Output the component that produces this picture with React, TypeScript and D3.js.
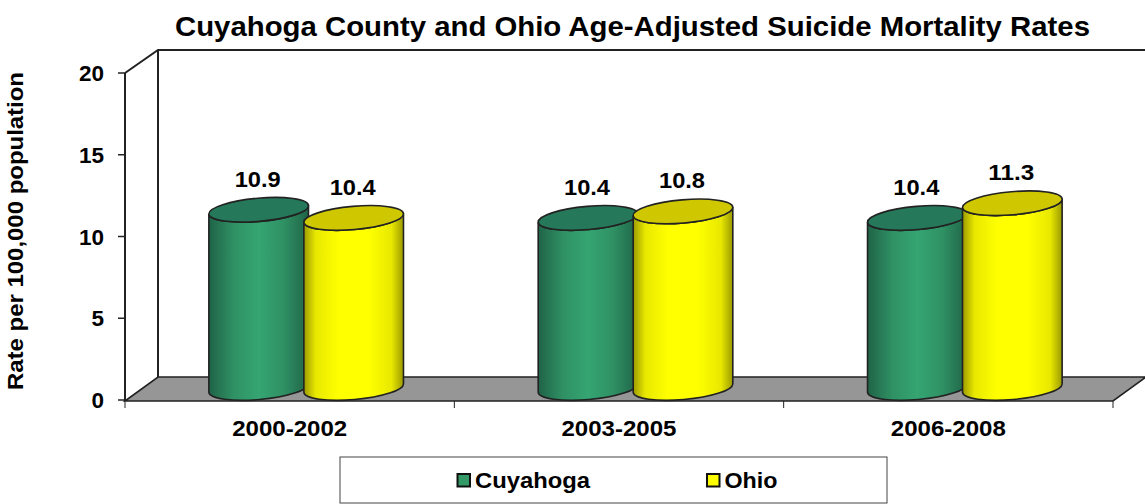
import React from "react";
import * as d3 from "d3";

const title = "Cuyahoga County and Ohio Age-Adjusted Suicide Mortality Rates";
const yAxisTitle = "Rate per 100,000 population";
const categories = ["2000-2002", "2003-2005", "2006-2008"];
const seriesNames = ["Cuyahoga", "Ohio"];
const cuyahoga = [10.9, 10.4, 10.4];
const ohio = [10.4, 10.8, 11.3];
const yTicks = [0, 5, 10, 15, 20];
const fills = ["url(#gGreen)", "url(#gYellow)"];
const tops = ["#25795a", "#cfc800"];
const swatches = ["#339966", "#ffff00"];

const FONT = "'Liberation Sans', Arial, sans-serif";
const DEPTH_X = 33;
const DEPTH_Y = 23;
const LINE = "#222";

export default function App() {
  const x0 = d3.scaleBand<string>().domain(categories).range([125, 1113]);
  const y = d3.scaleLinear().domain([0, 20]).range([400, 73]);
  const yBar = d3.scaleLinear().domain([0, 20]).range([388, 61]);
  const x1 = d3.scaleBand<string>().domain(seriesNames).range([-95, 95]);
  const rx = 50;
  const ry = 11.6;
  const tilt = -5;
  const dxE = rx * Math.cos((tilt * Math.PI) / 180);
  const dyE = rx * Math.sin((tilt * Math.PI) / 180);
  const data = [cuyahoga, ohio];

  const cyl = (cx: number, v: number, si: number) => {
    const yb = yBar(0);
    const yt = yBar(v);
    const body = `M${cx - dxE},${yb - dyE} A${rx},${ry} ${tilt} 0 0 ${cx + dxE},${yb + dyE} L${cx + dxE},${yt + dyE} A${rx},${ry} ${tilt} 0 1 ${cx - dxE},${yt - dyE} Z`;
    return (
      <g key={si}>
        <path d={body} fill={fills[si]} stroke={LINE} strokeWidth={1.6} />
        <ellipse cx={cx} cy={yt} rx={rx} ry={ry} transform={`rotate(${tilt} ${cx} ${yt})`} fill={tops[si]} stroke={LINE} strokeWidth={1.6} />
      </g>
    );
  };

  return (
    <svg width={1145} height={504} style={{ position: "absolute", left: 0, top: 0, background: "#fff" }} fontFamily={FONT} fontWeight="bold" fill="#000">
      <defs>
        <linearGradient id="gGreen">
          <stop offset="0" stopColor="#1f6347" />
          <stop offset="0.25" stopColor="#2f9164" />
          <stop offset="0.5" stopColor="#35a572" />
          <stop offset="0.75" stopColor="#2f9164" />
          <stop offset="1" stopColor="#1f6347" />
        </linearGradient>
        <linearGradient id="gYellow">
          <stop offset="0" stopColor="#9c9a00" />
          <stop offset="0.12" stopColor="#e8e800" />
          <stop offset="0.35" stopColor="#ffff00" />
          <stop offset="0.65" stopColor="#ffff00" />
          <stop offset="0.88" stopColor="#e8e800" />
          <stop offset="1" stopColor="#9c9a00" />
        </linearGradient>
      </defs>

      <text x={632.5} y={36} textAnchor="middle" fontSize={28} textLength={915} lengthAdjust="spacingAndGlyphs">{title}</text>

      {/* walls and floor */}
      <polygon points={`${x0.range()[0]},${y(0) + 1} ${x0.range()[0] + DEPTH_X},${y(0) - DEPTH_Y} ${x0.range()[1] + DEPTH_X},${y(0) - DEPTH_Y} ${x0.range()[1]},${y(0) + 1}`} fill="#969696" stroke={LINE} strokeWidth={1.6} />
      <path d={`M${x0.range()[0]},${y(20)} L${x0.range()[0] + DEPTH_X},${y(20) - DEPTH_Y} L${x0.range()[1] + DEPTH_X},${y(20) - DEPTH_Y} M${x0.range()[0] + DEPTH_X},${y(20) - DEPTH_Y} L${x0.range()[0] + DEPTH_X},${y(0) - DEPTH_Y}`} fill="none" stroke={LINE} strokeWidth={2} />

      {/* y axis */}
      <line x1={125} x2={125} y1={y(20)} y2={y(0) + 1} stroke={LINE} strokeWidth={2} />
      {yTicks.map((t) => (
        <g key={t}>
          <line x1={118} x2={125} y1={y(t)} y2={y(t)} stroke={LINE} strokeWidth={1.5} />
          <text x={104} y={y(t) + 8} textAnchor="end" fontSize={22.5}>{t}</text>
        </g>
      ))}
      <text transform="translate(23,231) rotate(-90)" textAnchor="middle" fontSize={22.5} textLength={318} lengthAdjust="spacingAndGlyphs">{yAxisTitle}</text>

      {/* x axis ticks and labels */}
      {[...categories.map((c) => x0(c) as number), x0.range()[1]].map((v) => (
        <line key={v} x1={v} x2={v} y1={y(0) + 1} y2={y(0) + 8} stroke={LINE} strokeWidth={1} />
      ))}
      {categories.map((c) => (
        <text key={c} x={(x0(c) as number) + x0.bandwidth() / 2} y={436} textAnchor="middle" fontSize={22.5} textLength={115} lengthAdjust="spacingAndGlyphs">{c}</text>
      ))}

      {/* cylinders */}
      {categories.map((c, i) => {
        const gc = (x0(c) as number) + x0.bandwidth() / 2 + DEPTH_X / 2;
        return (
          <g key={c}>
            {seriesNames.map((s, si) => cyl(gc + (x1(s) as number) + x1.bandwidth() / 2, data[si][i], si))}
          </g>
        );
      })}

      {/* value labels */}
      {categories.map((c, i) => {
        const gc = (x0(c) as number) + x0.bandwidth() / 2 + DEPTH_X / 2;
        return seriesNames.map((s, si) => (
          <text key={s + c} x={gc + (x1(s) as number) + x1.bandwidth() / 2 - 1} y={yBar(data[si][i]) - 23} textAnchor="middle" fontSize={22.5} textLength={46} lengthAdjust="spacingAndGlyphs">
            {data[si][i].toFixed(1)}
          </text>
        ));
      })}

      {/* legend */}
      <rect x={340} y={457} width={547} height={46} fill="#fff" stroke="#444" strokeWidth={1} />
      {seriesNames.map((s, si) => {
        const lx = si === 0 ? 457.5 : 707;
        return (
          <g key={s}>
            <rect x={lx} y={474} width={12.5} height={12.5} fill={swatches[si]} stroke="#111" strokeWidth={2} />
            <text x={lx + 17.5} y={488} fontSize={22.5} textLength={si === 0 ? 115 : 53} lengthAdjust="spacingAndGlyphs">{s}</text>
          </g>
        );
      })}
    </svg>
  );
}
